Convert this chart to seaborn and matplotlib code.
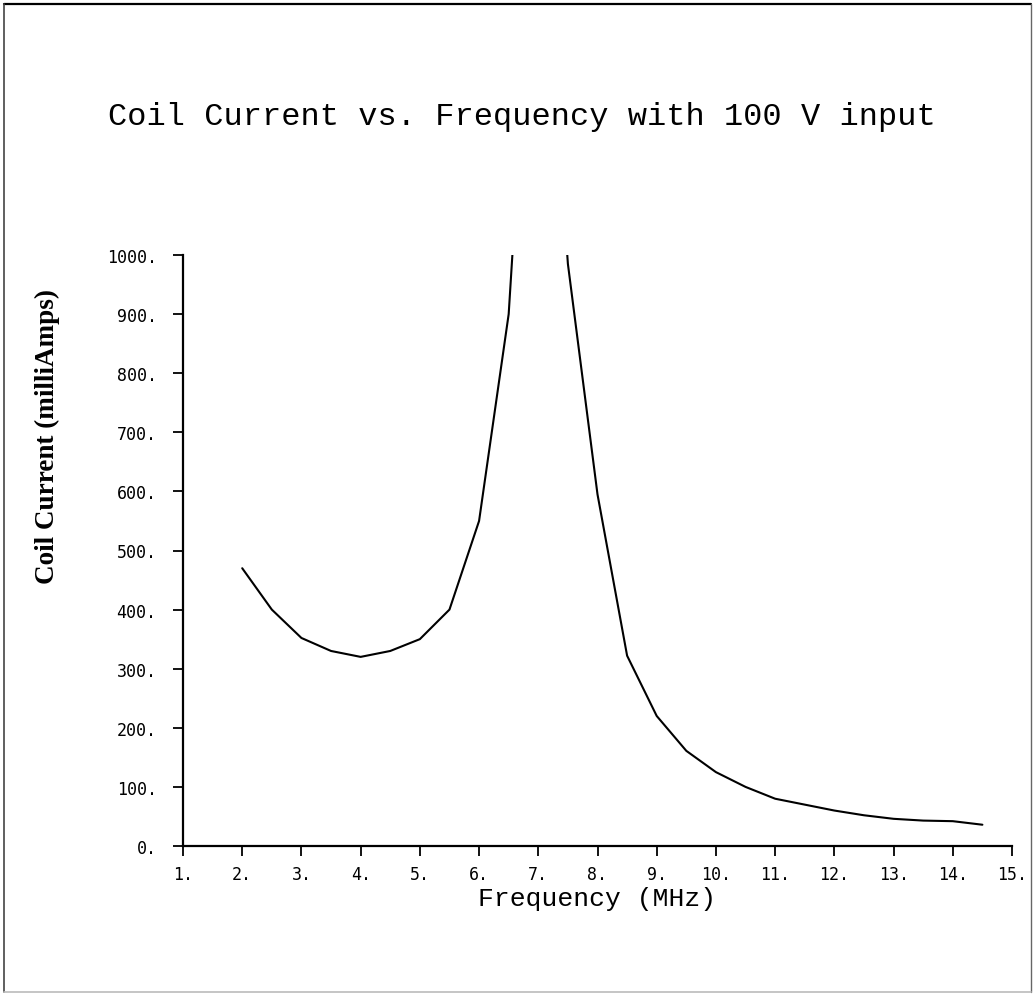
import matplotlib
matplotlib.use("Agg")
import matplotlib.pyplot as plt
from matplotlib.lines import Line2D
import seaborn as sns
import pandas as pd

# Measured coil current (mA) against drive frequency (MHz), 100 V input
frequency_mhz = [2.0, 2.5, 3.0, 3.5, 4.0, 4.5, 5.0, 5.5, 6.0, 6.5, 7.0, 7.5,
                 8.0, 8.5, 9.0, 9.5, 10.0, 10.5, 11.0, 11.5, 12.0, 12.5,
                 13.0, 13.5, 14.0, 14.5]
current_ma = [470, 400, 352, 330, 320, 330, 350, 400, 550, 900, 1700, 985,
              595, 322, 220, 161, 125, 100, 80, 70, 60, 52,
              46, 43, 42, 36]

x_ticks = list(range(1, 16))
y_ticks = list(range(0, 1001, 100))
x_tick_labels = [f"{v}." for v in x_ticks]
y_tick_labels = [f"{v}." for v in y_ticks]

title_text = "Coil Current vs. Frequency with 100 V input"
x_label_text = "Frequency (MHz)"
y_label_text = "Coil Current (milliAmps)"

df = pd.DataFrame({"freq": frequency_mhz, "current": current_ma})

sns.set_style("ticks")
plt.rcParams["font.family"] = ["DejaVu Sans Mono", "DejaVu Sans"]

fig = plt.figure(figsize=(10.34, 9.95), dpi=100)
ax = fig.add_axes([183 / 1034, 148 / 995, 829 / 1034, 591 / 995])

sns.lineplot(data=df, x="freq", y="current", ax=ax, color="black",
             linewidth=1.5, estimator=None, sort=False)

ax.set_xlim(1, 15)
ax.set_ylim(0, 1000)
ax.set_xticks(x_ticks)
ax.set_xticklabels(x_tick_labels)
ax.set_yticks(y_ticks)
ax.set_yticklabels(y_tick_labels)

for side in ("top", "right"):
    ax.spines[side].set_visible(False)
for side in ("left", "bottom"):
    ax.spines[side].set_linewidth(1.6)
    ax.spines[side].set_color("black")

ax.tick_params(axis="both", direction="out", length=7, width=1.3,
               colors="black", labelsize=12)
ax.tick_params(axis="y", pad=12)
ax.tick_params(axis="x", pad=7)

ax.set_xlabel(x_label_text, family="Liberation Mono", fontsize=19,
              color="black")
ax.xaxis.label.set_va("center")
ax.xaxis.set_label_coords(0.50, -0.088)

ax.set_ylabel(y_label_text, family="Liberation Serif", fontweight="bold",
              fontsize=19.5, color="black")
ax.yaxis.label.set_va("center")
ax.yaxis.set_label_coords(-0.163, 0.695)

fig.text(522 / 1034, 1 - 117 / 995, title_text, family="Liberation Mono",
         fontsize=23, ha="center", va="center", color="black")

# Page border
fig.add_artist(Line2D([4 / 1034, 1031 / 1034], [1 - 5 / 995, 1 - 5 / 995],
                      transform=fig.transFigure, color="black", lw=1.6))
fig.add_artist(Line2D([4 / 1034, 4 / 1034], [1 - 5 / 995, 2 / 995],
                      transform=fig.transFigure, color="#444444", lw=1.2))
fig.add_artist(Line2D([1031 / 1034, 1031 / 1034], [1 - 5 / 995, 2 / 995],
                      transform=fig.transFigure, color="#666666", lw=1.0))
fig.add_artist(Line2D([4 / 1034, 1031 / 1034], [2 / 995, 2 / 995],
                      transform=fig.transFigure, color="#bbbbbb", lw=1.2))

fig.savefig("out.png", dpi=100, facecolor="white")
